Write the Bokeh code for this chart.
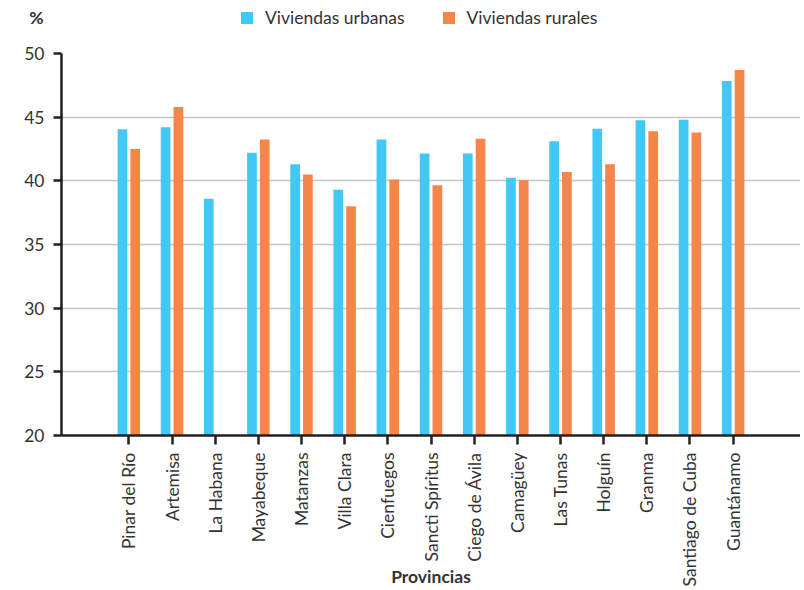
from math import pi
from bokeh.plotting import figure
from bokeh.layouts import column
from bokeh.models import (Range1d, Legend, LegendItem, ColumnDataSource,
                          FixedTicker)
from bokeh.transform import dodge
from bokeh.embed import file_html
from bokeh.resources import INLINE

# ---- data ----
provinces = ["Pinar del Río", "Artemisa", "La Habana", "Mayabeque", "Matanzas",
             "Villa Clara", "Cienfuegos", "Sancti Spíritus", "Ciego de Ávila",
             "Camagüey", "Las Tunas", "Holguín", "Granma", "Santiago de Cuba",
             "Guantánamo"]
urbanas = [44.05, 44.2, 38.6, 42.2, 41.3, 39.3, 43.25, 42.15, 42.15, 40.25,
           43.1, 44.1, 44.75, 44.8, 47.85]
rurales = [42.5, 45.8, float("nan"), 43.25, 40.5, 38.0, 40.1, 39.65, 43.3, 40.05,
           40.7, 41.3, 43.9, 43.8, 48.7]
series_names = ["Viviendas urbanas", "Viviendas rurales"]
y_ticks = [20, 25, 30, 35, 40, 45, 50]
y_label = "%"
x_label = "Provincias"

# ---- style ----
FONT = "Lato"
FS = "17.5px"
BLUE = "#42C8F4"
ORANGE = "#F5864A"
DARK = "#231f20"
TXT = "#333333"
W = 800
HEAD_H = 34

idx = list(range(len(provinces)))
src = ColumnDataSource(dict(idx=idx, urb=urbanas, rur=rurales))

# ---- header (legend + unit label) ----
h = figure(width=W, height=HEAD_H, output_backend="svg", toolbar_location=None,
           x_range=Range1d(-1.56, len(provinces) - 1 + 1.56),
           y_range=Range1d(0, 1), min_border_left=61, min_border_right=0,
           min_border_top=0, min_border_bottom=0, x_axis_location=None)
h.grid.visible = False
h.outline_line_color = None
lr1 = h.vbar(x="idx", top="urb", width=0.225, source=src, fill_color=BLUE,
             line_color=None, visible=False)
lr2 = h.vbar(x="idx", top="rur", width=0.225, source=src, fill_color=ORANGE,
             line_color=None, visible=False)
legend = Legend(items=[LegendItem(label=series_names[0], renderers=[lr1]),
                       LegendItem(label=series_names[1], renderers=[lr2])],
                orientation="horizontal", location=(178, 6),
                glyph_width=15, glyph_height=15, label_standoff=11, spacing=36,
                padding=0, margin=0, border_line_alpha=0,
                background_fill_alpha=0, inactive_fill_alpha=0,
                label_text_font=FONT, label_text_font_size=FS,
                label_text_color=TXT)
h.add_layout(legend)
hy = h.yaxis[0]
hy.ticker = FixedTicker(ticks=[])
hy.axis_line_color = None
hy.major_tick_line_color = None
hy.minor_tick_line_color = None
hy.axis_label = y_label
hy.axis_label_orientation = "horizontal"
hy.axis_label_standoff = 18
hy.axis_label_text_font = FONT
hy.axis_label_text_font_size = FS
hy.axis_label_text_font_style = "bold"
hy.axis_label_text_color = TXT

# ---- main chart ----
p = figure(width=W, height=590 - HEAD_H, output_backend="svg",
           toolbar_location=None,
           x_range=Range1d(-1.56, len(provinces) - 1 + 1.56),
           y_range=Range1d(y_ticks[0], y_ticks[-1]),
           min_border_left=61, min_border_right=0, min_border_top=19,
           min_border_bottom=155)
p.outline_line_color = None

base = y_ticks[0]
r1 = p.vbar(x=dodge("idx", -0.148), top="urb", bottom=base, width=0.225,
            source=src, fill_color=BLUE, line_color=None)
r2 = p.vbar(x=dodge("idx", 0.148), top="rur", bottom=base, width=0.225,
            source=src, fill_color=ORANGE, line_color=None)

p.xgrid.grid_line_color = None
p.ygrid.ticker = FixedTicker(ticks=y_ticks)
p.ygrid.grid_line_color = "#c4c4c4"
p.ygrid.grid_line_width = 1.5

ya = p.yaxis[0]
ya.ticker = FixedTicker(ticks=y_ticks)
ya.axis_line_color = DARK
ya.axis_line_width = 2.5
ya.major_tick_line_color = DARK
ya.major_tick_line_width = 2.5
ya.major_tick_out = 8
ya.major_tick_in = 0
ya.minor_tick_line_color = None
ya.major_label_text_font = FONT
ya.major_label_text_font_size = FS
ya.major_label_text_color = TXT
ya.major_label_standoff = 9

xa = p.xaxis[0]
xa.ticker = FixedTicker(ticks=idx)
xa.major_label_overrides = {i: name for i, name in zip(idx, provinces)}
xa.axis_line_color = DARK
xa.axis_line_width = 2.5
xa.major_tick_line_color = DARK
xa.major_tick_line_width = 2.5
xa.major_tick_out = 9
xa.major_tick_in = 0
xa.minor_tick_line_color = None
xa.major_label_orientation = pi / 2
xa.major_label_text_font = FONT
xa.major_label_text_font_size = FS
xa.major_label_text_color = TXT
xa.major_label_standoff = 8
xa.axis_label = x_label
xa.axis_label_text_font = FONT
xa.axis_label_text_font_size = FS
xa.axis_label_text_font_style = "bold"
xa.axis_label_text_color = TXT
xa.axis_label_standoff = -23

layout = column(h, p, spacing=0)
open("out.html", "w").write(file_html(layout, INLINE))
